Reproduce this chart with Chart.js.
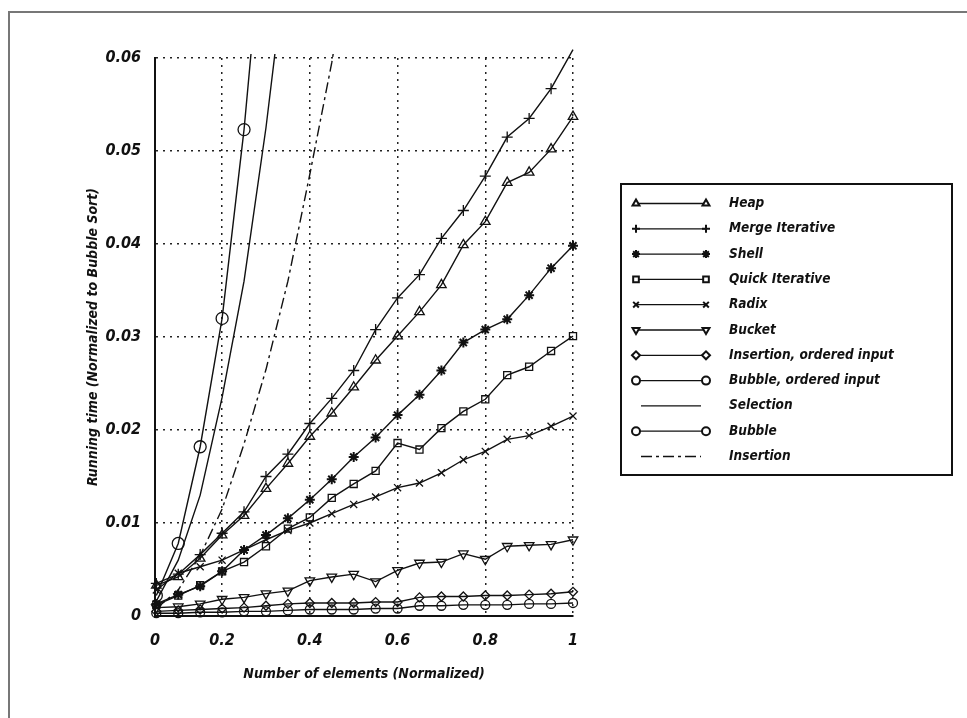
<!DOCTYPE html>
<html>
<head>
<meta charset="utf-8">
<script src="https://cdn.jsdelivr.net/npm/chart.js@4.4.0/dist/chart.umd.min.js"></script>
<style>
  html, body { margin: 0; padding: 0; background: #fff; }
  #frame {
    position: absolute; left: 8px; top: 11px; width: 959px; height: 707px;
    border-top: 2px solid #777; border-left: 2px solid #777;
  }
  #wrap { position: absolute; left: 0; top: 0; width: 967px; height: 718px; }
</style>
</head>
<body>
<div id="frame"></div>
<div id="wrap"><canvas id="chart"></canvas></div>
<script>
// input size, normalized
const sizes = [0.05, 0.1, 0.15, 0.2, 0.25, 0.3, 0.35, 0.4, 0.45, 0.5,
               0.55, 0.6, 0.65, 0.7, 0.75, 0.8, 0.85, 0.9, 0.95, 1.0];

// running time, normalized to bubble sort
const heap = [0.0033, 0.0042, 0.0062, 0.0087, 0.0108, 0.0137, 0.0164, 0.0193, 0.0218, 0.0246,
              0.0275, 0.0301, 0.0327, 0.0356, 0.0399, 0.0424, 0.0466, 0.0477, 0.0502, 0.0537];
const mergeIterative = [0.0035, 0.0045, 0.0066, 0.0089, 0.0112, 0.0150, 0.0174, 0.0207, 0.0234, 0.0264,
                        0.0308, 0.0342, 0.0367, 0.0406, 0.0436, 0.0473, 0.0515, 0.0535, 0.0567, 0.0609];
const shell = [0.0013, 0.0023, 0.0032, 0.0048, 0.0071, 0.0087, 0.0105, 0.0125, 0.0147, 0.0171,
               0.0192, 0.0216, 0.0238, 0.0264, 0.0294, 0.0308, 0.0319, 0.0345, 0.0374, 0.0398];
const quickIterative = [0.0012, 0.0022, 0.0033, 0.0048, 0.0058, 0.0075, 0.0094, 0.0106, 0.0127, 0.0142,
                        0.0156, 0.0186, 0.0179, 0.0202, 0.0220, 0.0233, 0.0259, 0.0268, 0.0285, 0.0301];
const radix = [0.0028, 0.0046, 0.0053, 0.0060, 0.0071, 0.0082, 0.0092, 0.0100, 0.0110, 0.0120,
               0.0128, 0.0138, 0.0143, 0.0154, 0.0168, 0.0177, 0.0190, 0.0194, 0.0204, 0.0215];
const bucket = [0.0009, 0.0010, 0.0013, 0.0018, 0.0020, 0.0024, 0.0027, 0.0038, 0.0042, 0.0045,
                0.0037, 0.0049, 0.0057, 0.0058, 0.0067, 0.0061, 0.0075, 0.0076, 0.0077, 0.0082];
const insertionOrdered = [0.0005, 0.0006, 0.0007, 0.0008, 0.0009, 0.0011, 0.0013, 0.0014, 0.0014, 0.0014,
                          0.0015, 0.0015, 0.0020, 0.0021, 0.0021, 0.0022, 0.0022, 0.0023, 0.0024, 0.0026];
const bubbleOrdered = [0.0003, 0.0003, 0.0004, 0.0004, 0.0005, 0.0005, 0.0006, 0.0007, 0.0007, 0.0007,
                       0.0008, 0.0008, 0.0011, 0.0011, 0.0012, 0.0012, 0.0012, 0.0013, 0.0013, 0.0014];
// the quadratic sorts leave the plot early
const selection = [0.0016, 0.0060, 0.0130, 0.0235, 0.0360, 0.0525, 0.0720];
const bubble = [0.0022, 0.0078, 0.0182, 0.0320, 0.0523, 0.0780];
const insertion = [0.0008, 0.0028, 0.0065, 0.0115, 0.0185, 0.0265, 0.0360, 0.0475, 0.0595, 0.0740];

const xTickValues = [0.047, 0.2, 0.4, 0.6, 0.8, 1];
const xTickLabels = ['0', '0.2', '0.4', '0.6', '0.8', '1'];
const yTickValues = [0, 0.01, 0.02, 0.03, 0.04, 0.05, 0.06];
const yTickLabels = ['0', '0.01', '0.02', '0.03', '0.04', '0.05', '0.06'];

const FONT = "'DejaVu Sans Condensed', 'Liberation Sans', sans-serif";
const INK = '#111';

window.addEventListener('load', () => {
    buildSortChart();
});

function toPoints(values) {
    return values.map((v, i) => ({ x: sizes[i], y: v }));
}

function series(label, values, style, extra) {
    return Object.assign({
        label: label,
        data: toPoints(values),
        borderColor: INK,
        borderWidth: 1.4,
        pointStyle: style,
        pointRadius: style ? 5 : 0,
        pointBorderColor: INK,
        pointBackgroundColor: 'rgba(255,255,255,0)',
        pointBorderWidth: 1.3,
        tension: 0,
        clip: false
    }, extra || {});
}

function buildSortChart() {
    const overflowClip = { left: 0, top: 4, right: 0, bottom: 0 };

    const datasets = [
        series('Heap', heap, 'triangle', { pointRadius: 5.5 }),
        series('Merge Iterative', mergeIterative, 'cross', { pointRadius: 5.5 }),
        series('Shell', shell, 'star', { pointRadius: 5, pointBorderWidth: 2 }),
        series('Quick Iterative', quickIterative, 'rect', { pointRadius: 5 }),
        series('Radix', radix, 'crossRot', { pointRadius: 5 }),
        series('Bucket', bucket, 'triangle', { pointRadius: 5.5, pointRotation: 180 }),
        series('Insertion, ordered input', insertionOrdered, 'rectRot', { pointRadius: 4.5 }),
        series('Bubble, ordered input', bubbleOrdered, 'circle', { pointRadius: 4.5 }),
        series('Selection', selection, false, { clip: overflowClip }),
        series('Bubble', bubble, 'circle', { pointRadius: 6, clip: overflowClip }),
        series('Insertion', insertion, false, { borderDash: [11, 4, 3, 4], clip: overflowClip })
    ];

    // boxed legend with a marker at each end of the sample line
    const boxLegend = {
        id: 'boxLegend',
        afterDraw(chart) {
            const ctx = chart.ctx;
            ctx.save();
            ctx.lineWidth = 2;
            ctx.strokeStyle = INK;
            ctx.strokeRect(621, 184, 331, 291);
            ctx.font = 'italic bold 13.5px ' + FONT;
            ctx.textBaseline = 'middle';
            chart.data.datasets.forEach((ds, i) => {
                const y = 203.5 + i * 25.3;
                const x0 = ds.pointStyle ? 636 : 641;
                const x1 = ds.pointStyle ? 706 : 701;
                ctx.save();
                ctx.lineWidth = 1.3;
                ctx.strokeStyle = INK;
                ctx.setLineDash(ds.borderDash || []);
                ctx.beginPath();
                ctx.moveTo(x0, y);
                ctx.lineTo(x1, y);
                ctx.stroke();
                ctx.restore();
                if (ds.pointStyle) {
                    const opts = {
                        pointStyle: ds.pointStyle,
                        radius: 4,
                        rotation: ds.pointRotation || 0,
                        borderWidth: 1.2
                    };
                    ctx.strokeStyle = INK;
                    ctx.fillStyle = '#fff';
                    Chart.helpers.drawPoint(ctx, opts, x0, y);
                    Chart.helpers.drawPoint(ctx, opts, x1, y);
                }
                ctx.fillStyle = INK;
                ctx.fillText(ds.label, 729, y);
            });
            ctx.restore();
        }
    };

    const gridColor = c => c.index === 0 ? 'rgba(0,0,0,0)' : '#222';
    const tickFont = { family: FONT, size: 16, style: 'italic', weight: 'bold' };
    const titleFont = { family: FONT, size: 14, style: 'italic', weight: 'bold' };

    new Chart(document.getElementById('chart').getContext('2d'), {
        type: 'line',
        data: { datasets: datasets },
        plugins: [boxLegend],
        options: {
            maintainAspectRatio: false,
            responsive: true,
            animation: false,
            events: [],
            layout: { padding: { left: 0, top: 58, right: 394, bottom: 0 } },
            plugins: {
                legend: { display: false },
                tooltip: { enabled: false }
            },
            scales: {
                x: {
                    type: 'linear',
                    min: xTickValues[0],
                    max: 1,
                    afterBuildTicks: s => { s.ticks = xTickValues.map(v => ({ value: v })); },
                    afterFit: s => { s.height = 102; },
                    grid: { color: gridColor, lineWidth: 1.5, drawTicks: false },
                    border: { display: true, color: INK, width: 2, dash: [2, 5] },
                    ticks: {
                        autoSkip: false,
                        maxRotation: 0,
                        padding: 15,
                        color: INK,
                        font: tickFont,
                        callback: (v, i) => xTickLabels[i]
                    },
                    title: {
                        display: true,
                        text: 'Number of elements (Normalized)',
                        color: INK,
                        padding: { top: 0, bottom: 35 },
                        font: titleFont
                    }
                },
                y: {
                    type: 'linear',
                    min: 0,
                    max: 0.06,
                    afterBuildTicks: s => { s.ticks = yTickValues.map(v => ({ value: v })); },
                    afterFit: s => { s.width = 155; },
                    grid: { color: gridColor, lineWidth: 1.5, drawTicks: false },
                    border: { display: true, color: INK, width: 2, dash: [2, 5] },
                    ticks: {
                        autoSkip: false,
                        padding: 14,
                        color: INK,
                        font: tickFont,
                        callback: (v, i) => yTickLabels[i]
                    },
                    title: {
                        display: true,
                        text: 'Running time (Normalized to Bubble Sort)',
                        color: INK,
                        padding: { top: 85, bottom: 0 },
                        font: titleFont
                    }
                }
            }
        }
    });
}
</script>
</body>
</html>
